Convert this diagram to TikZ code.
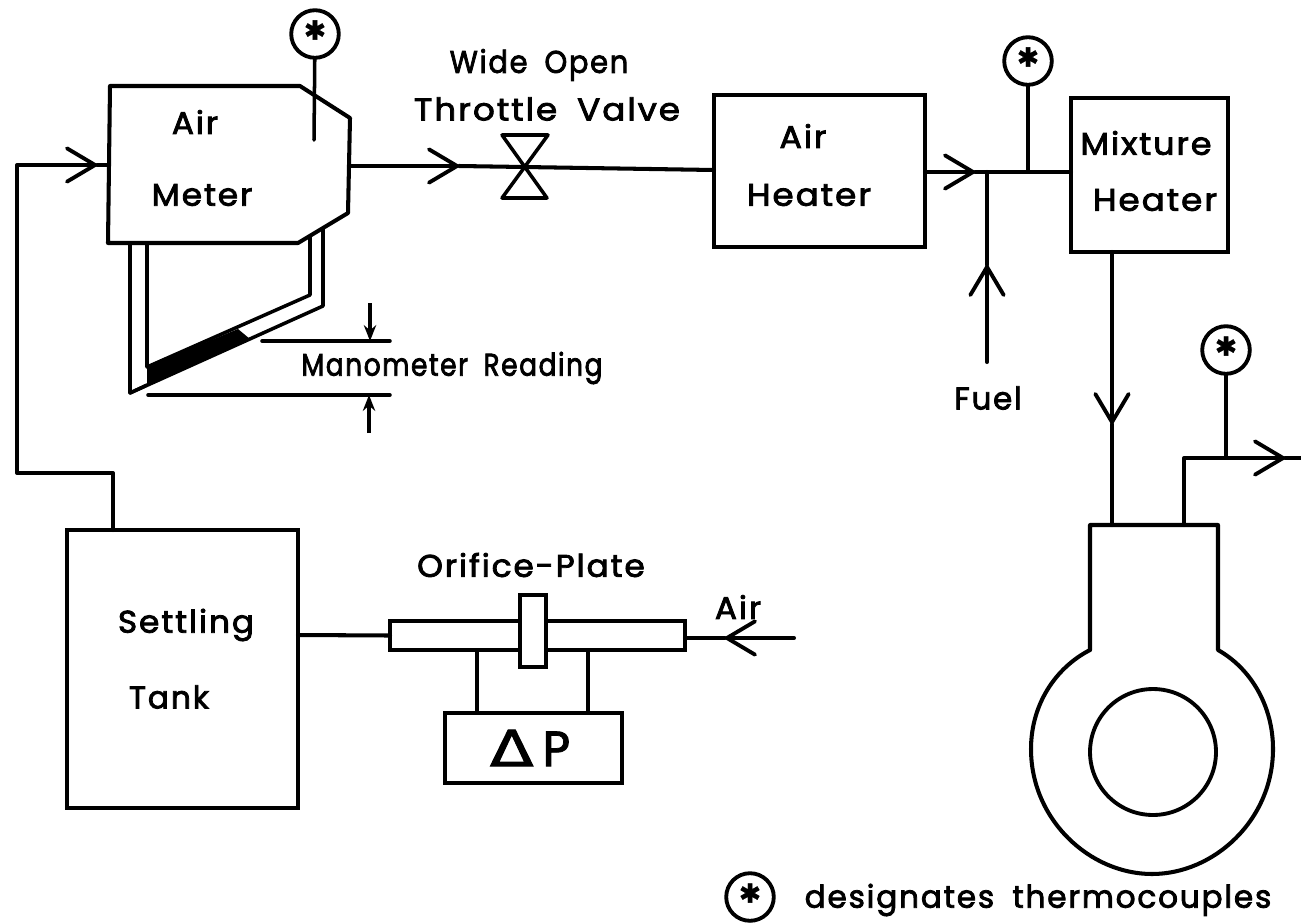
\documentclass[tikz,border=0pt]{standalone}
\usepackage{fontspec}
\setmainfont{Poppins}[LetterSpace=6,WordSpace=1.8,FakeBold=2.6]
\newfontfamily\dejavu{DejaVu Sans}[FakeBold=1.5]
\usetikzlibrary{arrows.meta}
\tikzset{
  ln/.style={line width=2.3pt,line cap=round,line join=round},
  thin ln/.style={line width=2pt,line cap=round,line join=round},
  flow/.style={ln,-{Straight Barb[length=16pt,width=19pt,line width=2.2pt,round]}},
  dim/.style={line width=2pt,-{Stealth[length=9pt,width=7pt]}},
  boxn/.style={draw,line width=2.2pt,inner sep=0pt,outer sep=0pt},
  tc/.style={draw,circle,line width=2.2pt,minimum size=0.952cm,inner sep=0pt,outer sep=0pt,font=\dejavu\fontsize{15}{15}\selectfont},
  lab/.style={inner sep=0pt,font=\fontsize{15.5}{18}\selectfont},
}
\newcommand{\tcstar}{\raisebox{0.3em}{\symbol{"2731}}}
\newcommand{\tx}[2]{\scalebox{#1}[1.15]{#2}}
\begin{document}
\begin{tikzpicture}[x=0.02cm,y=-0.02cm]
\useasboundingbox (0,0) rectangle (1301,923);
\fill[white] (0,0) rectangle (1301,923);

% Air meter outline
\coordinate (m1) at (110,86);
\coordinate (m2) at (300,86);
\coordinate (m3) at (350,118);
\coordinate (m4) at (348,213);
\coordinate (m5) at (298,243);
\coordinate (m6) at (108,243);
\draw[ln] (m1)--(m2)--(m3)--(m4)--(m5)--(m6)--cycle;
\node[lab] (tAir1) at (195,122) {\tx{1.2}{Air}};
\node[lab] (tMeter) at (202,195) {\tx{1.2}{Meter}};

% Manometer
\coordinate (o1) at (130,243);
\coordinate (o2) at (130,393);
\coordinate (o3) at (323,306);
\coordinate (o4) at (323,228);
\coordinate (i1) at (147,243);
\coordinate (i2) at (147,367);
\coordinate (i3) at (310,295);
\coordinate (i4) at (310,236);
\coordinate (i5) at (147,385);
\fill (i2)--(i5)--(250,339)--(238,329)--cycle;
\draw[thin ln] (o1)--(o2)--(o3)--(o4);
\draw[thin ln] (i1)--(i2)--(i3)--(i4);
\draw[thin ln] (o2)--(i5);
\coordinate (d1) at (262,341);
\coordinate (d2) at (390,341);
\coordinate (d3) at (148,395);
\coordinate (d4) at (390,395);
\draw[thin ln] (d1)--(d2);
\draw[thin ln] (d3)--(d4);
\coordinate (a1s) at (370,303);
\coordinate (a1e) at (370,341);
\coordinate (a2s) at (369,433);
\coordinate (a2e) at (369,395);
\draw[dim] (a1s)--(a1e);
\draw[dim] (a2s)--(a2e);
\node[lab] (tMano) at (452,368) {\tx{0.97}{Manometer Reading}};

% Thermocouple 1
\node[tc] (tc1) at (315,34) {\tcstar};
\coordinate (tc1e) at (314,140);
\draw[thin ln] (tc1)--(tc1e);

% Air meter -> valve -> air heater
\node[boxn,minimum width=4.22cm,minimum height=3.04cm] (heater) at (819.5,171) {};
\node[lab] (tAir2) at (803,136) {\tx{1.22}{Air}};
\node[lab] (tHeat1) at (809,195) {\tx{1.25}{Heater}};
\coordinate (mo) at (350,166);
\coordinate (f1) at (459,166);
\coordinate (vc) at (524,167);
\coordinate (hw) at (714,170);
\draw[flow] (mo)--(f1);
\draw[ln] (f1)--(vc)--(hw);
\coordinate (v1) at (502,135);
\coordinate (v2) at (548,135);
\coordinate (v3) at (502,198);
\coordinate (v4) at (547,198);
\draw[thin ln] (v1)--(v2)--(v3)--(v4)--cycle;
\node[lab] (tWide) at (539,65) {\tx{1.06}{Wide Open}};
\node[lab] (tThrot) at (547,109) {\tx{1.25}{Throttle Valve}};

% Mixture heater
\node[boxn,minimum width=3.14cm,minimum height=3.08cm] (mix) at (1149.5,175) {};
\node[lab] (tMix) at (1146,143) {\tx{1.22}{Mixture}};
\node[lab] (tHeat2) at (1155,200) {\tx{1.25}{Heater}};
\coordinate (he) at (925,172);
\coordinate (f2) at (975,172);
\coordinate (mw) at (1071,172);
\draw[flow] (he)--(f2);
\draw[ln] (f2)--(mw);

% Fuel
\coordinate (fj) at (987,172);
\coordinate (f3) at (987,265);
\coordinate (fs) at (987,362);
\draw[ln] (f3)--(fj);
\draw[flow] (fs)--(f3);
\node[lab] (tFuel) at (988,398) {\tx{1.13}{Fuel}};

% Thermocouple 2
\node[tc] (tc2) at (1028,61) {\tcstar};
\coordinate (tc2e) at (1028,172);
\draw[thin ln] (tc2)--(tc2e);

% Mixture -> engine
\coordinate (ms) at (1112,252);
\coordinate (f4) at (1112,424);
\coordinate (ei) at (1112,525);
\draw[flow] (ms)--(f4);
\draw[ln] (f4)--(ei);

% Engine
\coordinate (e1) at (1090,650);
\coordinate (e2) at (1090,525);
\coordinate (e3) at (1218,525);
\coordinate (e4) at (1218,650);
\draw[ln] (e1)--(e2)--(e3)--(e4)
  .. controls (1250,668) and (1273,705) .. (1273,749)
  .. controls (1273,820) and (1214,874) .. (1152,874)
  .. controls (1090,874) and (1031,820) .. (1031,749)
  .. controls (1031,705) and (1055,668) .. (e1);
\node[draw,circle,line width=2.2pt,minimum size=2.52cm,inner sep=0pt] (cyl) at (1153,752) {};

% Engine outlet
\coordinate (x1) at (1184,525);
\coordinate (x2) at (1184,458);
\coordinate (f5) at (1285,458);
\coordinate (x3) at (1301,458);
\draw[flow] (x1)--(x2)--(f5);
\draw[ln] (f5)--(x3);
\node[tc] (tc3) at (1226,350) {\tcstar};
\coordinate (tc3e) at (1226,458);
\draw[thin ln] (tc3)--(tc3e);

% Settling tank
\node[boxn,minimum width=4.62cm,minimum height=5.56cm] (tank) at (182.5,669) {};
\node[lab] (tSet) at (186,625) {\tx{1.2}{Settling}};
\node[lab] (tTank) at (169,697) {\tx{1.15}{Tank}};
\coordinate (t1) at (113,530);
\coordinate (t2) at (113,473);
\coordinate (t3) at (17,473);
\coordinate (t4) at (17,165);
\coordinate (f6) at (97,165);
\coordinate (mi) at (108,165);
\draw[flow] (t1)--(t2)--(t3)--(t4)--(f6);
\draw[ln] (f6)--(mi);

% Orifice
\node[boxn,minimum width=5.9cm,minimum height=0.58cm] (pipe) at (537.5,635.5) {};
\node[boxn,fill=white,minimum width=0.52cm,minimum height=1.44cm] (plate) at (533,631) {};
\coordinate (tout) at (298,635);
\draw[ln] (tout)--(pipe.west);
\node[lab] (tOri) at (531,565) {\tx{1.2}{Orifice-Plate}};
\node[boxn,minimum width=3.54cm,minimum height=1.4cm] (dp) at (533.5,748) {};
\node[inner sep=0pt,font=\dejavu\fontsize{27}{27}\selectfont] (tdp) at (530,748) {\scalebox{1.35}[1.05]{Δ}\,P};
\coordinate (p1) at (477,650);
\coordinate (p2) at (477,713);
\coordinate (p3) at (588,650);
\coordinate (p4) at (588,713);
\draw[thin ln] (p1)--(p2);
\draw[thin ln] (p3)--(p4);

% Air inlet
\coordinate (air0) at (794,638);
\coordinate (f7) at (725,638);
\coordinate (airE) at (685,638);
\draw[flow] (air0)--(f7);
\draw[ln] (f7)--(airE);
\node[lab] (tAir3) at (738,607) {\tx{1.2}{Air}};

% Legend
\node[tc] (tc4) at (750,897) {\tcstar};
\node[lab] (tLeg) at (1038,900) {\tx{1.14}{designates thermocouples}};
\end{tikzpicture}
\end{document}
